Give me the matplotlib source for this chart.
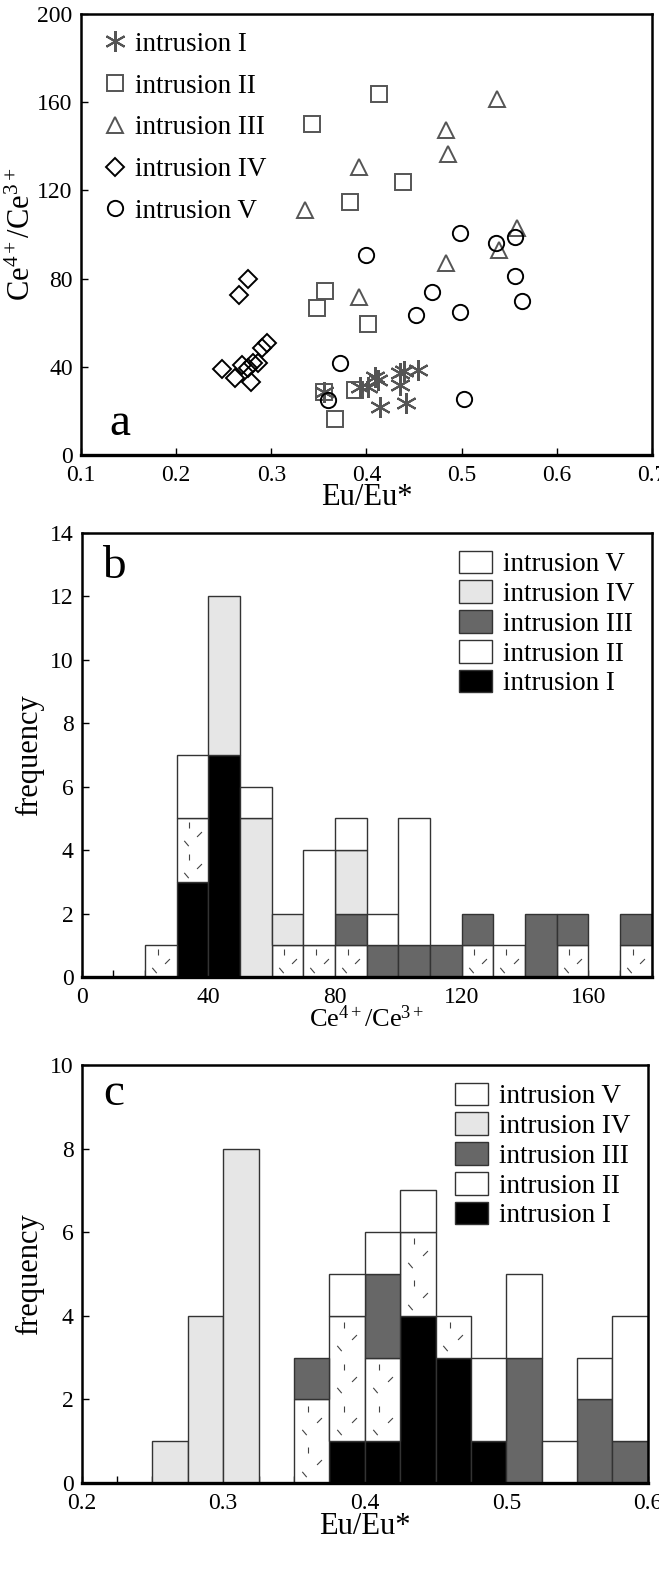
import numpy as np
import matplotlib
matplotlib.use("Agg")
from matplotlib import pyplot as plt
from matplotlib.patches import Patch

plt.rcParams['font.family'] = ['Liberation Serif', 'DejaVu Serif']
plt.rcParams['mathtext.fontset'] = 'custom'
plt.rcParams['mathtext.rm'] = 'Liberation Serif'
plt.rcParams['mathtext.it'] = 'Liberation Serif:italic'

# ---- panel a : scatter data (Eu/Eu*, Ce4+/Ce3+) ----
eu_1 = [0.355, 0.393, 0.402, 0.409, 0.412, 0.414, 0.435, 0.440, 0.435, 0.442, 0.454]
ce_1 = [28.7, 31.0, 31.0, 35.5, 34.0, 21.9, 37.0, 38.0, 31.7, 23.4, 38.5]
eu_2 = [0.413, 0.343, 0.438, 0.383, 0.356, 0.348, 0.402, 0.388, 0.355, 0.367]
ce_2 = [163.7, 150.0, 123.7, 114.7, 74.5, 66.5, 59.4, 29.5, 28.7, 16.2]
eu_3 = [0.537, 0.484, 0.486, 0.392, 0.335, 0.558, 0.539, 0.484, 0.392]
ce_3 = [161.7, 147.4, 136.5, 130.8, 111.0, 102.8, 93.0, 87.0, 71.8]
eu_4 = [0.276, 0.266, 0.248, 0.262, 0.269, 0.276, 0.281, 0.286, 0.279, 0.290, 0.295]
ce_4 = [80.0, 72.6, 38.9, 34.8, 40.8, 39.3, 41.6, 41.6, 33.2, 48.4, 50.7]
eu_5 = [0.498, 0.400, 0.536, 0.556, 0.556, 0.469, 0.564, 0.452, 0.498, 0.372, 0.360, 0.503]
ce_5 = [100.5, 90.7, 96.3, 98.7, 81.2, 73.8, 69.8, 63.5, 65.0, 41.6, 24.9, 25.4]

# ---- panel b : stacked histogram of Ce4+/Ce3+ (bins of 10) ----
b_edges = np.arange(0, 181, 10)
b_I   = [0, 0, 0, 3, 7, 0, 0, 0, 0, 0, 0, 0, 0, 0, 0, 0, 0, 0]
b_II  = [0, 0, 1, 2, 0, 0, 1, 1, 1, 0, 0, 0, 1, 1, 0, 1, 0, 1]
b_III = [0, 0, 0, 0, 0, 0, 0, 0, 1, 1, 1, 1, 1, 0, 2, 1, 0, 1]
b_IV  = [0, 0, 0, 0, 5, 5, 1, 0, 2, 0, 0, 0, 0, 0, 0, 0, 0, 0]
b_V   = [0, 0, 0, 2, 0, 1, 0, 3, 1, 1, 4, 0, 0, 0, 0, 0, 0, 0]

# ---- panel c : stacked histogram of Eu/Eu* (bins of 0.025) ----
c_edges = np.linspace(0.2, 0.6, 17)
c_I   = [0, 0, 0, 0, 0, 0, 0, 1, 1, 4, 3, 1, 0, 0, 0, 0]
c_II  = [0, 0, 0, 0, 0, 0, 2, 3, 2, 2, 1, 0, 0, 0, 0, 0]
c_III = [0, 0, 0, 0, 0, 0, 1, 0, 2, 0, 0, 0, 3, 0, 2, 1]
c_IV  = [0, 0, 1, 4, 8, 0, 0, 0, 0, 0, 0, 0, 0, 0, 0, 0]
c_V   = [0, 0, 0, 0, 0, 0, 0, 1, 1, 1, 0, 2, 2, 1, 1, 3]

names = ['intrusion I', 'intrusion II', 'intrusion III', 'intrusion IV', 'intrusion V']
fills = ['black', 'white', '#676767', '#e6e6e6', 'white']

GREY = '#555555'
TICK = 17
LAB = 22
LEG = 19.5

fig = plt.figure(figsize=(6.59, 15.74), dpi=100)


def style_axes(ax):
    for s in ax.spines.values():
        s.set_linewidth(1.8)
    ax.spines['bottom'].set_linewidth(2.4)
    ax.tick_params(direction='in', labelsize=TICK, length=5, width=1)
    ax.tick_params(axis='x', pad=7)
    ax.tick_params(axis='y', pad=6)
    ax.tick_params(which='minor', direction='in', length=5, width=1)


# panel a
axa = fig.add_axes([0.123, 0.711, 0.866, 0.280])
kw = dict(ls='none', mfc='none', ms=11, mew=1.4)
axa.plot(eu_1, ce_1, marker=(6, 2, 0), mec=GREY, ms=15, mew=1.5, ls='none', label=names[0])
axa.plot(eu_2, ce_2, marker='s', mec=GREY, label=names[1], **kw)
axa.plot(eu_3, ce_3, marker='^', mec=GREY, label=names[2], **kw)
axa.plot(eu_4, ce_4, marker='D', mec='black', label=names[3], ls='none', mfc='none', ms=9, mew=1.4)
axa.plot(eu_5, ce_5, marker='o', mec='black', label=names[4], **kw)
axa.set_xlim(0.1, 0.7)
axa.set_ylim(0, 200)
axa.set_xticks(np.arange(0.1, 0.71, 0.1))
axa.set_xticklabels(['0.1', '0.2', '0.3', '0.4', '0.5', '0.6', '0.7'])
axa.set_yticks(np.arange(0, 201, 40))
style_axes(axa)
axa.set_xlabel('Eu/Eu*', fontsize=LAB, labelpad=-2)
axa.set_ylabel(r'Ce$^{4+}$/Ce$^{3+}$', fontsize=LAB, labelpad=0)
axa.legend(loc='upper left', frameon=False, fontsize=LEG, handletextpad=0.15,
           labelspacing=0.62, borderaxespad=0.25, handlelength=1.2,
           bbox_to_anchor=(0.0, 1.0))
axa.text(0.068, 0.07, 'a', transform=axa.transAxes, fontsize=34,
         ha='center', va='center')


def dashes(ax, left, width, bottom, height):
    # short scattered strokes used as the texture of intrusion II
    cell = [(0.28, 0.22, 40), (0.7, 0.5, -45), (0.4, 0.78, 0)]
    for k in range(int(round(height))):
        for fx, fy, ang in cell:
            ax.plot(left + fx * width, bottom + k + fy, ls='none',
                    marker=(2, 0, ang), ms=5, mec='#444444', mew=0.8, zorder=3)


def stacked(ax, edges, series):
    left = edges[:-1]
    width = np.diff(edges)
    bottom = np.zeros(len(left))
    for i, vals in enumerate(series):
        vals = np.asarray(vals, dtype=float)
        m = vals > 0
        ax.bar(left[m], vals[m], width=width[m], bottom=bottom[m], align='edge',
               color=fills[i], edgecolor='#333333', linewidth=1.0, zorder=2)
        if i == 1:
            for l, w, b, h in zip(left[m], width[m], bottom[m], vals[m]):
                dashes(ax, l, w, b, h)
        bottom = bottom + vals
    handles = [Patch(facecolor=fills[i], edgecolor='#333333', label=names[i])
               for i in range(4, -1, -1)]
    ax.legend(handles=handles, loc='upper right', frameon=False, fontsize=LEG,
              handlelength=1.2, handleheight=0.9, handletextpad=0.4,
              labelspacing=0.12, borderaxespad=0.25)


# panel b
axb = fig.add_axes([0.124, 0.3793, 0.865, 0.2821])
stacked(axb, b_edges, [b_I, b_II, b_III, b_IV, b_V])
axb.set_xlim(0, 180)
axb.set_ylim(0, 14)
axb.set_xticks(np.arange(0, 161, 40))
axb.set_xticks(np.arange(0, 181, 10), minor=True)
axb.set_yticks(np.arange(0, 15, 2))
style_axes(axb)
axb.set_xlabel(r'Ce$^{4+}$/Ce$^{3+}$', fontsize=LAB - 3, labelpad=-2)
axb.set_ylabel('frequency', fontsize=LAB, labelpad=4)
axb.text(0.056, 0.925, 'b', transform=axb.transAxes, fontsize=34,
         ha='center', va='center')

# panel c
axc = fig.add_axes([0.124, 0.0578, 0.859, 0.2656])
stacked(axc, c_edges, [c_I, c_II, c_III, c_IV, c_V])
axc.set_xlim(0.2, 0.6)
axc.set_ylim(0, 10)
axc.set_xticks([0.2, 0.3, 0.4, 0.5, 0.6])
axc.set_xticklabels(['0.2', '0.3', '0.4', '0.5', '0.6'])
axc.set_xticks(c_edges, minor=True)
axc.set_yticks(np.arange(0, 11, 2))
style_axes(axc)
axc.set_xlabel('Eu/Eu*', fontsize=LAB, labelpad=-1)
axc.set_ylabel('frequency', fontsize=LAB, labelpad=4)
axc.text(0.056, 0.93, 'c', transform=axc.transAxes, fontsize=34,
         ha='center', va='center')

fig.savefig('out.png', dpi=100)
